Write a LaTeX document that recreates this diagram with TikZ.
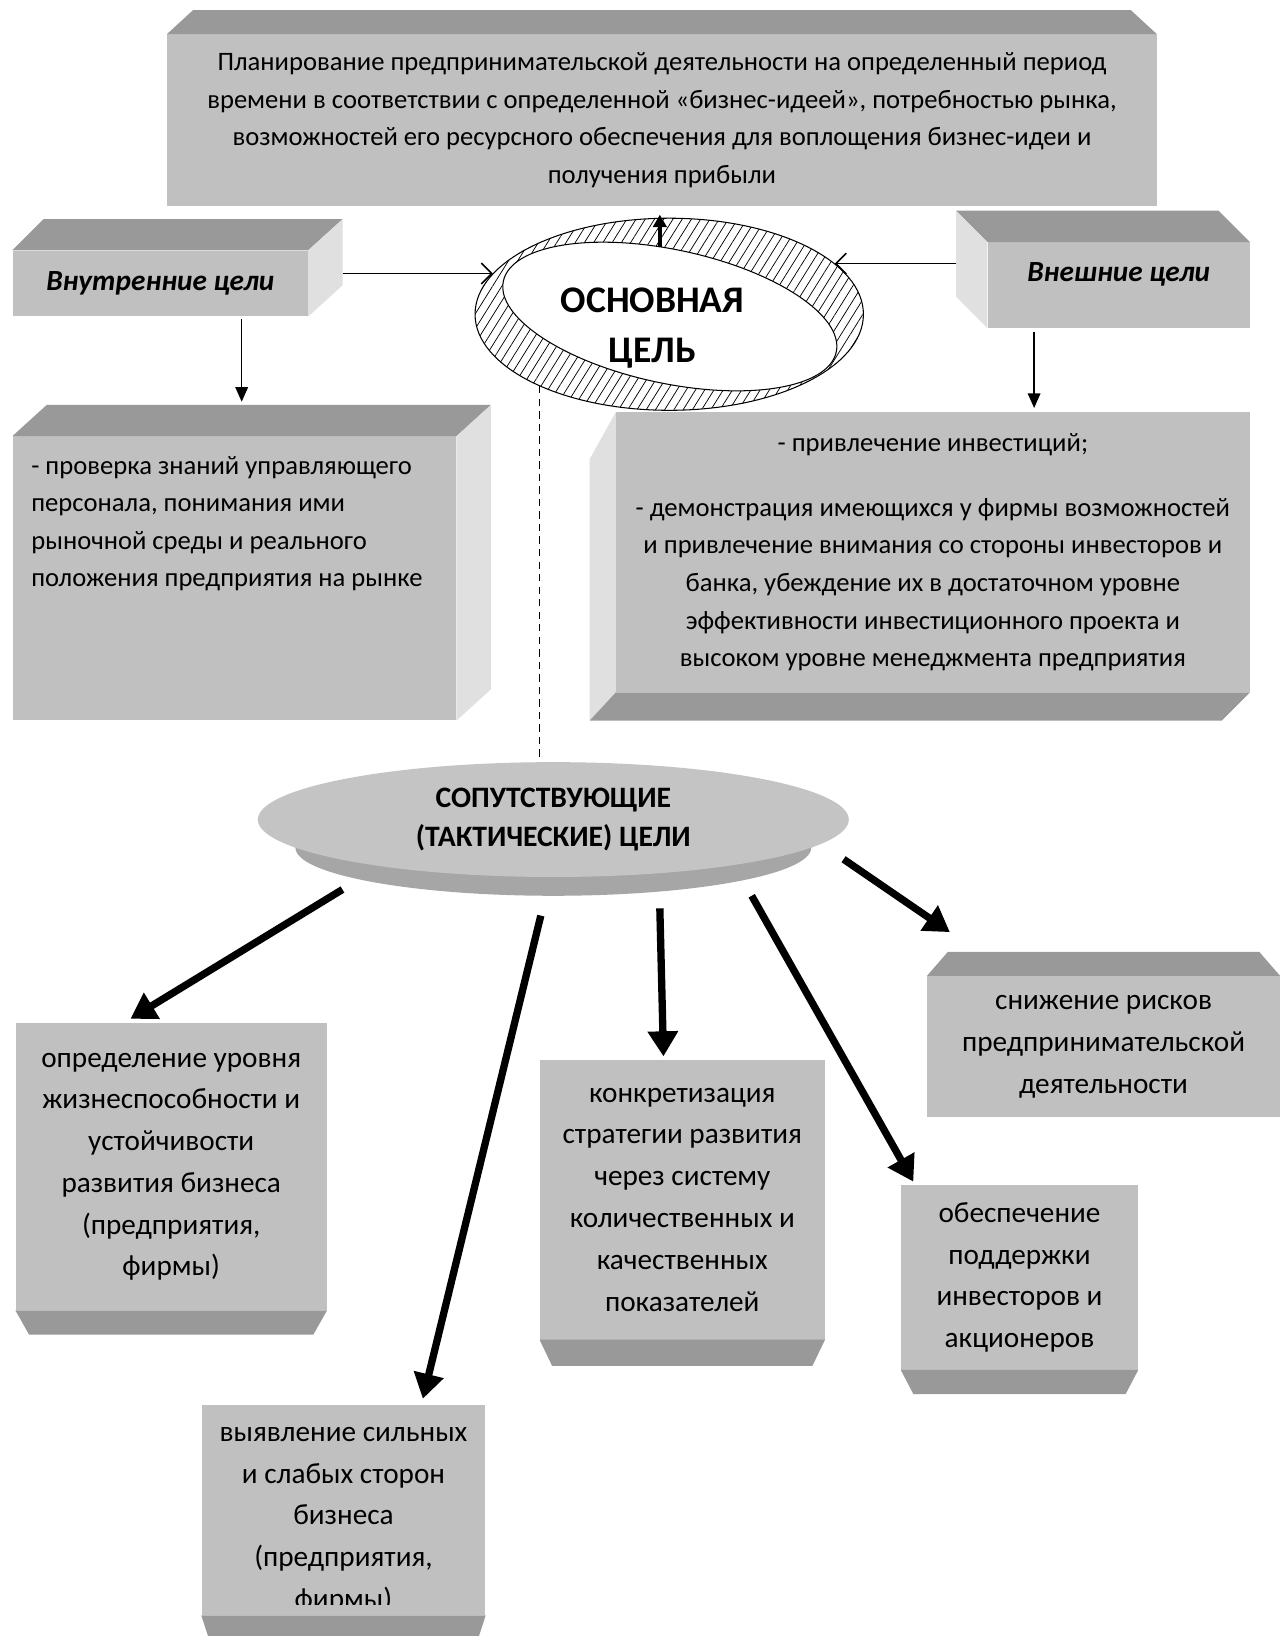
\documentclass[tikz,border=0pt]{standalone}
\usepackage{fontspec}
\setmainfont{Carlito}
\usetikzlibrary{calc, positioning, shapes.geometric, arrows.meta, patterns.meta}

\definecolor{facegray}{HTML}{C0C0C0}
\definecolor{topgray}{HTML}{999999}
\definecolor{sidegray}{HTML}{E0E0E0}
\definecolor{discgray}{HTML}{C4C4C4}
\definecolor{rimgray}{HTML}{A6A6A6}

\tikzset{
  front/.style={fill=facegray, inner sep=0pt, align=center},
  topface/.style={fill=topgray},
  sideface/.style={fill=sidegray},
  bodytext/.style={font=\fontsize{25.5}{36}\selectfont, align=center, inner sep=0pt},
  lowtext/.style={font=\fontsize{28}{40}\selectfont, align=center, inner sep=0pt},
  titletext/.style={font=\bfseries\itshape\fontsize{28}{36}\selectfont, inner sep=0pt},
  thinarrow/.style={->, >={Triangle[length=14pt,width=12pt]}, line width=1.5pt},
  openarrow/.style={->, >={Straight Barb[length=10pt,width=20pt]}, line width=1.5pt},
  uparrow/.style={->, >={Triangle[length=12pt,width=13pt]}, line width=3.5pt},
  bigarrow/.style={->, >={Triangle[length=24pt,width=28pt]}, line width=7pt},
  dashline/.style={dash pattern=on 7pt off 5pt, line width=1.5pt}
}

\begin{document}
\begin{tikzpicture}[x=1pt, y=-1pt]
\useasboundingbox (0,0) rectangle (1230,1567);
\fill[white] (0,0) rectangle (1230,1567);

% top: planning
\node[front, bodytext, minimum width=948pt, minimum height=164pt] (plan) at (634,115) {Планирование предпринимательской деятельности на определенный период\\времени в соответствии с определенной «бизнес-идеей», потребностью рынка,\\возможностей его ресурсного обеспечения для воплощения бизнес-идеи и\\получения прибыли};
\fill[topface] (plan.north west) -- ($(plan.north west)+(25,-23)$) -- ($(plan.north east)+(-25,-23)$) -- (plan.north east) -- cycle;

% internal goals
\node[front, titletext, minimum width=283pt, minimum height=63pt] (inner) at (153.5,271.5) {Внутренние цели};
\fill[topface] (inner.north west) -- ($(inner.north west)+(30,-30)$) -- ($(inner.north east)+(33,-30)$) -- (inner.north east) -- cycle;
\fill[sideface] (inner.north east) -- ($(inner.north east)+(33,-30)$) -- ($(inner.south east)+(33,-30)$) -- (inner.south east) -- cycle;

% external goals
\node[front, minimum width=251pt, minimum height=82pt] (outer) at (1071.5,273) {};
\node[titletext] (outer-t) at ($(outer)+(0,-10)$) {Внешние цели};
\fill[topface] (outer.north west) -- ($(outer.north west)+(-30,-30)$) -- ($(outer.north east)+(-30,-30)$) -- (outer.north east) -- cycle;
\fill[sideface] (outer.north west) -- ($(outer.north west)+(-30,-30)$) -- ($(outer.south west)+(-30,-30)$) -- (outer.south west) -- cycle;

% main goal ring
\node[ellipse, draw, line width=1pt, minimum width=372pt, minimum height=184pt, pattern={Lines[angle=58,distance=7.5pt,line width=0.7pt]}] (goal) at (641,301) {};
\begin{scope}[shift={(goal.center)}, rotate=-12]
  \draw[line width=1pt, fill=white] (1,2) ellipse [x radius=163, y radius=64];
\end{scope}
\node[font=\bfseries\fontsize{36}{48}\selectfont, align=center, inner sep=0pt] (goal-t) at ($(goal)+(-16,13)$) {ОСНОВНАЯ\\ЦЕЛЬ};

% box under internal goals
\node[front, minimum width=425pt, minimum height=272pt] (intbox) at (224.5,554) {};
\fill[topface] (intbox.north west) -- ($(intbox.north west)+(33,-30)$) -- ($(intbox.north east)+(33,-30)$) -- (intbox.north east) -- cycle;
\fill[sideface] (intbox.north east) -- ($(intbox.north east)+(33,-30)$) -- ($(intbox.south east)+(33,-30)$) -- (intbox.south east) -- cycle;
\node[bodytext, align=left, anchor=north west] (intbox-t) at ($(intbox.north west)+(18,19)$) {- проверка знаний управляющего\\персонала, понимания ими\\рыночной среды и реального\\положения предприятия на рынке};

% box under external goals
\node[front, bodytext, minimum width=607pt, minimum height=268pt] (extbox) at (893.5,529) {- привлечение инвестиций;\\[26pt]- демонстрация имеющихся у фирмы возможностей\\и привлечение внимания со стороны инвесторов и\\банка, убеждение их в достаточном уровне\\эффективности инвестиционного проекта и\\высоком уровне менеджмента предприятия};
\fill[sideface] (extbox.north west) -- ($(extbox.north west)+(-25,45)$) -- ($(extbox.south west)+(-25,27)$) -- (extbox.south west) -- cycle;
\fill[topface] (extbox.south west) -- (extbox.south east) -- ($(extbox.south east)+(-27,27)$) -- ($(extbox.south west)+(-25,27)$) -- cycle;

% arrows of the upper part
\coordinate (innerback) at ($(inner.north east)+(33,-30)$);
\coordinate (outerback) at ($(outer.north west)+(-30,-30)$);
\draw[openarrow] (goal.167 -| innerback) -- (goal.167);
\draw[openarrow] (goal.17 -| outerback) -- (goal.17);
\draw[uparrow] ($(goal.north)+(-9,28)$) -- ($(goal.north)+(-9,-3)$);
\coordinate (innerdown) at ($(inner.south)+(78,2)$);
\coordinate (outerdown) at ($(outer.south)+(-81,4)$);
\draw[thinarrow] (innerdown) -- ($(innerdown |- intbox.north)+(0,-33)$);
\draw[thinarrow] (outerdown) -- ($(outerdown |- extbox.north)+(0,-4)$);

% tactical goals disc
\fill[rimgray] (247,785) -- (283,812) -- (777,812) -- (813,785) -- cycle;
\fill[rimgray] (530,812) ellipse [x radius=247, y radius=46];
\node[ellipse, fill=discgray, inner sep=0pt, minimum width=566pt, minimum height=110pt, align=center, font=\bfseries\fontsize{28.4}{38}\selectfont] (tact) at (530,785) {СОПУТСТВУЮЩИЕ\\(ТАКТИЧЕСКИЕ) ЦЕЛИ};
\draw[dashline] (goal.209) -- (goal.209 |- tact.north);

% lower boxes
\node[front, lowtext, minimum width=298pt, minimum height=275pt] (b1) at (164,1117.5) {определение уровня\\жизнеспособности и\\устойчивости\\развития бизнеса\\(предприятия,\\фирмы)};
\fill[topface] (b1.south west) -- (b1.south east) -- ($(b1.south east)+(-13,23)$) -- ($(b1.south west)+(13,23)$) -- cycle;

\node[front, minimum width=272pt, minimum height=201pt] (b2) at (329,1446.5) {};
\fill[topface] (b2.south west) -- (b2.south east) -- ($(b2.south east)+(-13,40)$) -- ($(b2.south west)+(13,40)$) -- cycle;
\begin{scope}
  \clip (b2.north west) rectangle ($(b2.south east)+(0,-10)$);
  \node[lowtext, anchor=north] (b2-t) at ($(b2.north)+(0,21)$) {выявление сильных\\и слабых сторон\\бизнеса\\(предприятия,\\фирмы)};
\end{scope}

\node[front, lowtext, minimum width=273pt, minimum height=268pt] (b3) at (653.5,1149) {конкретизация\\стратегии развития\\через систему\\количественных и\\качественных\\показателей};
\fill[topface] (b3.south west) -- (b3.south east) -- ($(b3.south east)+(-12,25)$) -- ($(b3.south west)+(12,25)$) -- cycle;

\node[front, lowtext, minimum width=227pt, minimum height=177pt] (b4) at (976.5,1223.5) {обеспечение\\поддержки\\инвесторов и\\акционеров};
\fill[topface] (b4.south west) -- (b4.south east) -- ($(b4.south east)+(-12,23)$) -- ($(b4.south west)+(12,23)$) -- cycle;

\node[front, lowtext, minimum width=338pt, minimum height=135pt] (b5) at (1057,1002.5) {снижение рисков\\предпринимательской\\деятельности};
\fill[topface] (b5.north west) -- ($(b5.north west)+(20,-23)$) -- ($(b5.north east)+(-20,-23)$) -- (b5.north east) -- cycle;

% thick arrows from the disc
\draw[bigarrow] ($(tact.center)+(-202,67)$) -- ($(b1.north)+(-39,-4)$);
\draw[bigarrow] ($(tact.center)+(-12,92)$) -- ($(b2.north)+(76,-6)$);
\draw[bigarrow] ($(tact.center)+(102,85)$) -- ($(b3.north)+(-18,-3)$);
\draw[bigarrow] ($(tact.center)+(190,73)$) -- ($(b4.north west)+(12,-3)$);
\draw[bigarrow] ($(tact.center)+(278,38)$) -- ($(b5.north west)+(22,-42)$);
\end{tikzpicture}
\end{document}
